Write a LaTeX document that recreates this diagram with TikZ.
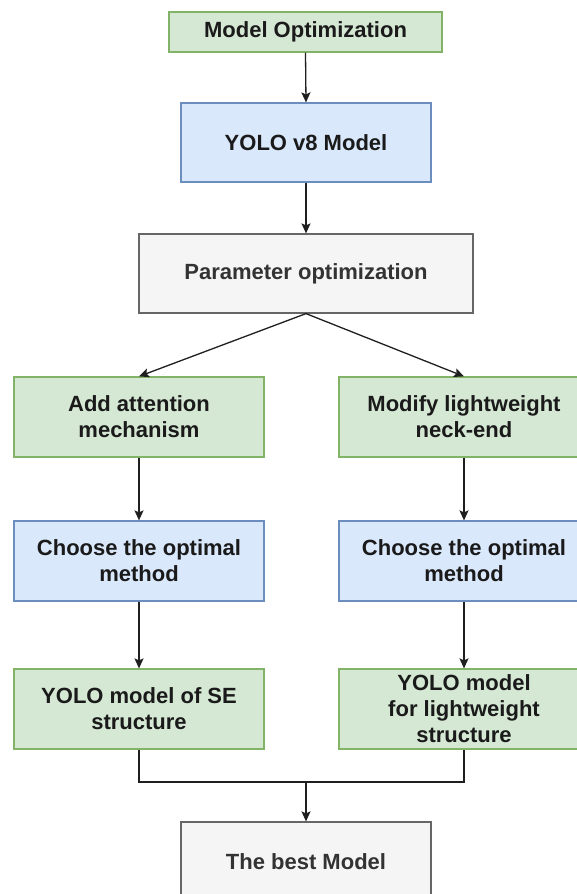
\documentclass[tikz,border=0pt]{standalone}
\usepackage{fontspec}
\setmainfont{Liberation Sans}
\usetikzlibrary{arrows.meta}
\definecolor{gfill}{HTML}{D5E8D4}
\definecolor{gdraw}{HTML}{82B366}
\definecolor{bfill}{HTML}{DAE8FC}
\definecolor{bdraw}{HTML}{6C8EBF}
\definecolor{sfill}{HTML}{F5F5F5}
\definecolor{sdraw}{HTML}{666666}
\definecolor{stext}{HTML}{333333}
\definecolor{ltext}{HTML}{1A1A1A}
\tikzset{
  box/.style={rectangle, line width=1.2pt, align=center, inner sep=0pt,
    font=\bfseries\fontsize{22}{26}\selectfont, text=ltext},
  greenbox/.style={box, fill=gfill, draw=gdraw},
  bluebox/.style={box, fill=bfill, draw=bdraw},
  greybox/.style={box, fill=sfill, draw=sdraw, text=stext},
  conn/.style={line width=1.3pt, draw=black!88},
  arr/.style={conn, -{Stealth[length=10pt,width=9pt,inset=2pt]}}
}
\begin{document}
\begin{tikzpicture}[x=1pt,y=-1pt]
\useasboundingbox (0,0) rectangle (577,894);
\clip (0,0) rectangle (577,894);
\fill[white] (0,0) rectangle (577,894);

\node[greenbox, minimum width=273pt, minimum height=40pt] (b1) at (305.5,32) {Model Optimization};
\node[bluebox, minimum width=250pt, minimum height=79pt] (b2) at (306,142.5) {YOLO v8 Model};
\node[greybox, minimum width=334pt, minimum height=79pt] (b3) at (306,273.5) {Parameter optimization};

\node[greenbox, minimum width=250pt, minimum height=80pt] (b4) at (139,417) {Add attention\\mechanism};
\node[greenbox, minimum width=250pt, minimum height=80pt] (b5) at (464,417) {Modify lightweight\\neck-end};

\node[bluebox, minimum width=250pt, minimum height=80pt] (b6) at (139,561) {Choose the optimal\\method};
\node[bluebox, minimum width=250pt, minimum height=80pt] (b7) at (464,561) {Choose the optimal\\method};

\node[greenbox, minimum width=250pt, minimum height=80pt] (b8) at (139,709) {YOLO model of SE\\structure};
\node[greenbox, minimum width=250pt, minimum height=80pt] (b9) at (464,709) {YOLO model\\for lightweight\\structure};

\node[greybox, minimum width=250pt, minimum height=80pt] (b10) at (306,862) {The best Model};

\draw[arr] (b1.south) -- (b2.north);
\draw[arr] (b2.south) -- (b3.north);
\draw[arr] (b3.south) -- (b4.north);
\draw[arr] (b3.south) -- (b5.north);
\draw[arr] (b4.south) -- (b6.north);
\draw[arr] (b5.south) -- (b7.north);
\draw[arr] (b6.south) -- (b8.north);
\draw[arr] (b7.south) -- (b9.north);

\coordinate (m) at (306,782);
\draw[conn] (b8.south) |- (m) -| (b9.south);
\draw[arr] (m) -- (b10.north);
\end{tikzpicture}
\end{document}
